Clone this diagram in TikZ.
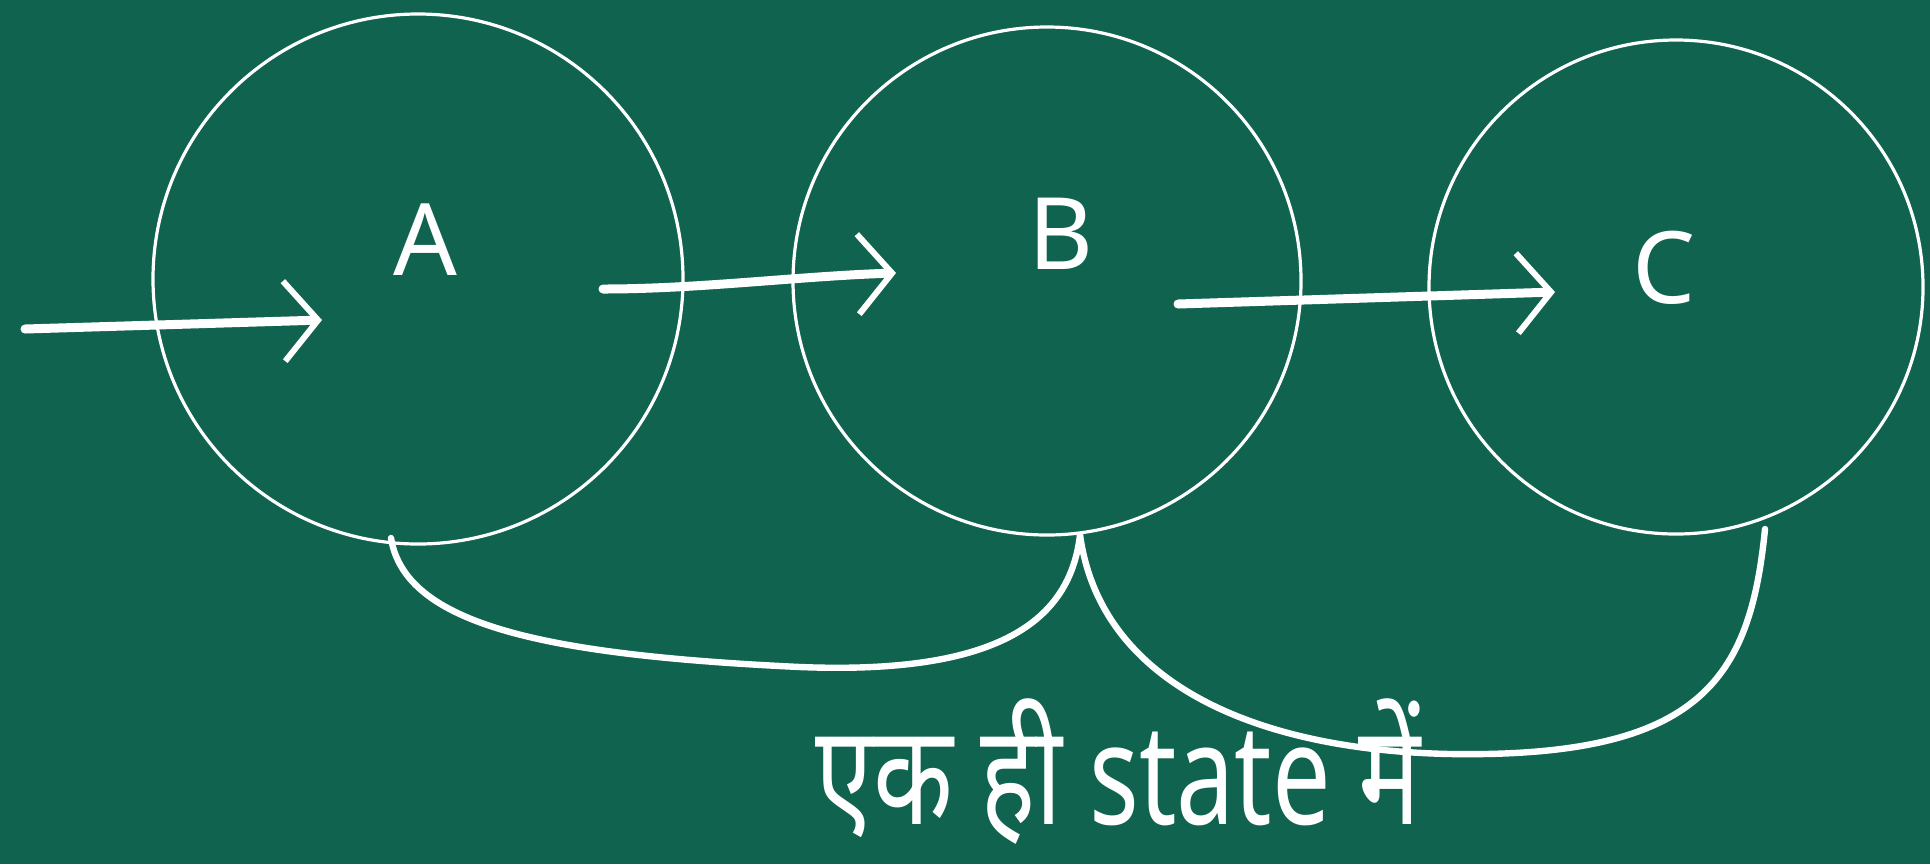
\documentclass[tikz,border=0pt]{standalone}
\usepackage{fontspec}
\setmainfont{Noto Sans}
\newfontfamily\devfont[Script=Devanagari]{Noto Sans}
\usetikzlibrary{arrows.meta}
\definecolor{board}{RGB}{15,99,79}
\tikzset{
  statecirc/.style={circle, draw=white, line width=1.6pt, inner sep=0pt},
  statelabel/.style={text=white, font=\fontsize{50}{50}\selectfont},
  flow/.style={draw=white, line width=4.5pt, line cap=round,
    -{Straight Barb[length=17pt, width=40pt, line width=3pt]}},
  loopline/.style={draw=white, line width=3.2pt, line cap=round},
}
\begin{document}
\begin{tikzpicture}[x=0.5pt,y=-0.5pt]
\fill[board] (0,0) rectangle (1930,864);
\useasboundingbox (0,0) rectangle (1930,864);
% states
\node[statecirc, minimum size=265pt] (A) at (418,279) {};
\node[statecirc, minimum size=254pt] (B) at (1047,281) {};
\node[statecirc, minimum size=247pt] (C) at (1676,287) {};
\node[statelabel] (la) at (425,240) {A};
\node[statelabel] (lb) at (1061,234) {B};
\node[statelabel] (lc) at (1664,268) {C};
% arrow end points
\coordinate (s0) at (25,329);
\coordinate (e0) at (322,320);
\coordinate (s1) at (603,289);
\coordinate (e1) at (896,273);
\coordinate (s2) at (1178,304);
\coordinate (e2) at (1555,292);
\draw[flow] (s0) -- (e0);
\draw[flow] (s1) .. controls (700,289) and (800,276) .. (e1);
\draw[flow] (s2) -- (e2);
% loops
\coordinate (pa) at (391,538);
\coordinate (pb) at (1080,535);
\coordinate (pc) at (1765,529);
\draw[loopline] (pa) .. controls (405,625) and (545,655) .. (800,667)
  .. controls (1000,675) and (1070,620) .. (pb);
\draw[loopline] (pb) .. controls (1100,680) and (1250,750) .. (1450,754)
  .. controls (1700,758) and (1750,680) .. (pc);
% caption
\node[text=white, font=\devfont\fontsize{52}{52}\selectfont, yscale=1.35] (cap) at (1118,772) {एक ही state में};
\end{tikzpicture}
\end{document}
